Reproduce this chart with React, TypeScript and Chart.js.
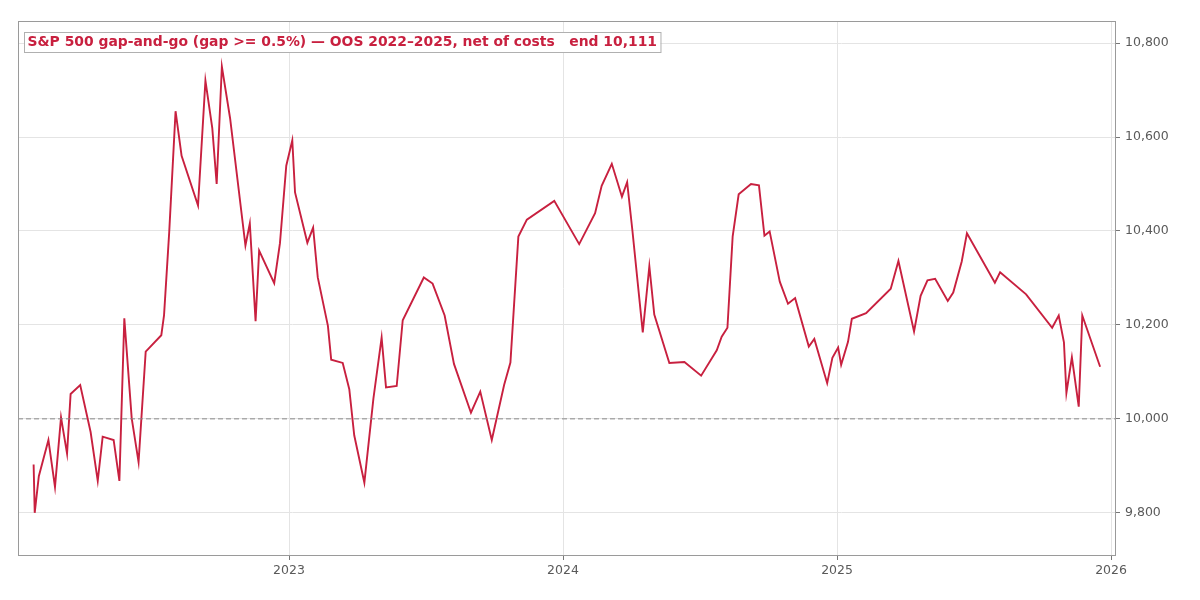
import { useEffect, useRef } from "react"
import { Chart, registerables } from "chart.js"

Chart.register(...registerables)

// dates as decimal years, equity in $
const timeYears = [
  2022.068, 2022.072, 2022.087, 2022.122, 2022.146, 2022.168, 2022.19, 2022.203, 2022.238, 2022.276,
  2022.302, 2022.32, 2022.36, 2022.381, 2022.399, 2022.426, 2022.451, 2022.477, 2022.534, 2022.544,
  2022.563, 2022.586, 2022.608, 2022.668, 2022.695, 2022.72, 2022.736, 2022.755, 2022.785, 2022.841,
  2022.857, 2022.878, 2022.891, 2022.946, 2022.967, 2022.99, 2023.012, 2023.022, 2023.067, 2023.088,
  2023.105, 2023.142, 2023.154, 2023.196, 2023.22, 2023.238, 2023.275, 2023.308, 2023.338, 2023.354,
  2023.393, 2023.415, 2023.492, 2023.524, 2023.568, 2023.602, 2023.664, 2023.698, 2023.74, 2023.785,
  2023.808, 2023.837, 2023.868, 2023.968, 2024.059, 2024.117, 2024.141, 2024.178, 2024.215, 2024.234,
  2024.253, 2024.291, 2024.315, 2024.333, 2024.388, 2024.443, 2024.504, 2024.561, 2024.579, 2024.6,
  2024.619, 2024.641, 2024.686, 2024.715, 2024.735, 2024.754, 2024.791, 2024.821, 2024.847, 2024.897,
  2024.917, 2024.964, 2024.983, 2025.004, 2025.015, 2025.04, 2025.054, 2025.106, 2025.196, 2025.224,
  2025.281, 2025.305, 2025.33, 2025.358, 2025.404, 2025.424, 2025.455, 2025.474, 2025.576, 2025.595,
  2025.69, 2025.785, 2025.809, 2025.828, 2025.837, 2025.857, 2025.882, 2025.895, 2025.96,
]

const equity = [
  9903, 9800, 9878, 9955, 9855, 10003, 9926, 10053, 10072, 9972,
  9868, 9962, 9955, 9868, 10214, 10001, 9908, 10143, 10178, 10221,
  10399, 10655, 10560, 10454, 10720, 10619, 10500, 10750, 10640, 10369,
  10416, 10208, 10358, 10289, 10374, 10539, 10593, 10482, 10375, 10407,
  10301, 10198, 10126, 10119, 10063, 9965, 9864, 10043, 10173, 10067,
  10070, 10210, 10301, 10288, 10220, 10117, 10013, 10058, 9955, 10072,
  10120, 10388, 10424, 10464, 10372, 10438, 10496, 10543, 10473, 10504,
  10402, 10184, 10325, 10222, 10119, 10121, 10092, 10146, 10175, 10194,
  10388, 10478, 10500, 10497, 10390, 10399, 10292, 10245, 10257, 10154,
  10170, 10076, 10130, 10152, 10115, 10164, 10213, 10225, 10277, 10336,
  10186, 10262, 10295, 10298, 10251, 10269, 10335, 10395, 10290, 10312,
  10265, 10194, 10220, 10163, 10055, 10131, 10026, 10220, 10111,
]

const startCapital = 10000
const yearTicks = [2023, 2024, 2025, 2026]
const equityTicks = [9800, 10000, 10200, 10400, 10600, 10800]
const titleText = "S&P 500 gap-and-go (gap >= 0.5%) \u2014 OOS 2022\u20132025, net of costs   end 10,111"

const X_MIN = 2022.011
const X_MAX = 2026.018
const Y_MIN = 9708
const Y_MAX = 10847

const LINE_COLOR = "#C8203F"
const GRID_COLOR = "#e4e4e4"
const FONT = "'DejaVu Sans', sans-serif"

// box around plot + title label
const framePlugin = {
  id: "frame",
  afterDraw(chart: Chart) {
    const { ctx, chartArea } = chart
    const { left, top, right, bottom } = chartArea
    ctx.save()
    ctx.strokeStyle = "#9a9a9a"
    ctx.lineWidth = 1
    ctx.strokeRect(left + 0.5, top + 0.5, right - left - 1, bottom - top - 1)

    ctx.font = "bold 13.9px " + FONT
    const w = ctx.measureText(titleText).width
    const bx = left + 6
    const by = top + 11
    ctx.fillStyle = "#ffffff"
    ctx.fillRect(bx, by, w + 7, 20)
    ctx.strokeStyle = "#b0b0b0"
    ctx.strokeRect(bx + 0.5, by + 0.5, w + 7, 20)
    ctx.fillStyle = LINE_COLOR
    ctx.textBaseline = "middle"
    ctx.textAlign = "left"
    ctx.fillText(titleText, bx + 3.5, by + 10.5)
    ctx.restore()
  },
}

function EquityChart() {
  const chartRef = useRef<HTMLCanvasElement>(null)
  const chartInstance = useRef<Chart | null>(null)

  useEffect(() => {
    if (!chartRef.current) return
    if (chartInstance.current) chartInstance.current.destroy()
    const ctx = chartRef.current.getContext("2d")
    if (!ctx) return

    const points = timeYears.map((t, i) => ({ x: t, y: equity[i] }))

    chartInstance.current = new Chart(ctx, {
      type: "line",
      data: {
        datasets: [
          {
            label: "baseline",
            data: [
              { x: X_MIN, y: startCapital },
              { x: X_MAX, y: startCapital },
            ],
            borderColor: "#8a8a8a",
            borderWidth: 1,
            borderDash: [5, 3],
            pointRadius: 0,
          },
          {
            label: "equity",
            data: points,
            borderColor: LINE_COLOR,
            borderWidth: 1.9,
            pointRadius: 0,
            tension: 0,
          },
        ],
      },
      options: {
        responsive: true,
        maintainAspectRatio: false,
        animation: false,
        layout: { padding: { left: 10, top: 13, right: 0, bottom: 0 } },
        plugins: {
          legend: { display: false },
          tooltip: { enabled: false },
        },
        scales: {
          x: {
            type: "linear",
            min: X_MIN,
            max: X_MAX,
            afterBuildTicks: (scale: any) => {
              scale.ticks = yearTicks.map((v) => ({ value: v }))
            },
            afterFit: (scale: any) => {
              scale.height = 36
            },
            border: { display: false },
            grid: { color: GRID_COLOR, tickColor: "#777", tickLength: 4 },
            ticks: {
              padding: 3,
              color: "#5a5a5a",
              font: { family: FONT, size: 12.5 },
              maxRotation: 0,
              callback: (v: any) => String(v),
            },
          },
          y: {
            position: "right",
            min: Y_MIN,
            max: Y_MAX,
            afterBuildTicks: (scale: any) => {
              scale.ticks = equityTicks.map((v) => ({ value: v }))
            },
            afterFit: (scale: any) => {
              scale.width = 76
            },
            border: { display: false },
            grid: { color: GRID_COLOR, tickColor: "#777", tickLength: 4 },
            ticks: {
              padding: 5,
              color: "#5a5a5a",
              font: { family: FONT, size: 12.5 },
              callback: (v: any) => Number(v).toLocaleString("en-US"),
            },
          },
        },
      },
      plugins: [framePlugin],
    })

    return () => {
      if (chartInstance.current) {
        chartInstance.current.destroy()
        chartInstance.current = null
      }
    }
  }, [])

  return <canvas ref={chartRef} />
}

export default function App() {
  return (
    <div style={{ width: 1184, height: 584, position: "relative" }}>
      <EquityChart />
    </div>
  )
}
